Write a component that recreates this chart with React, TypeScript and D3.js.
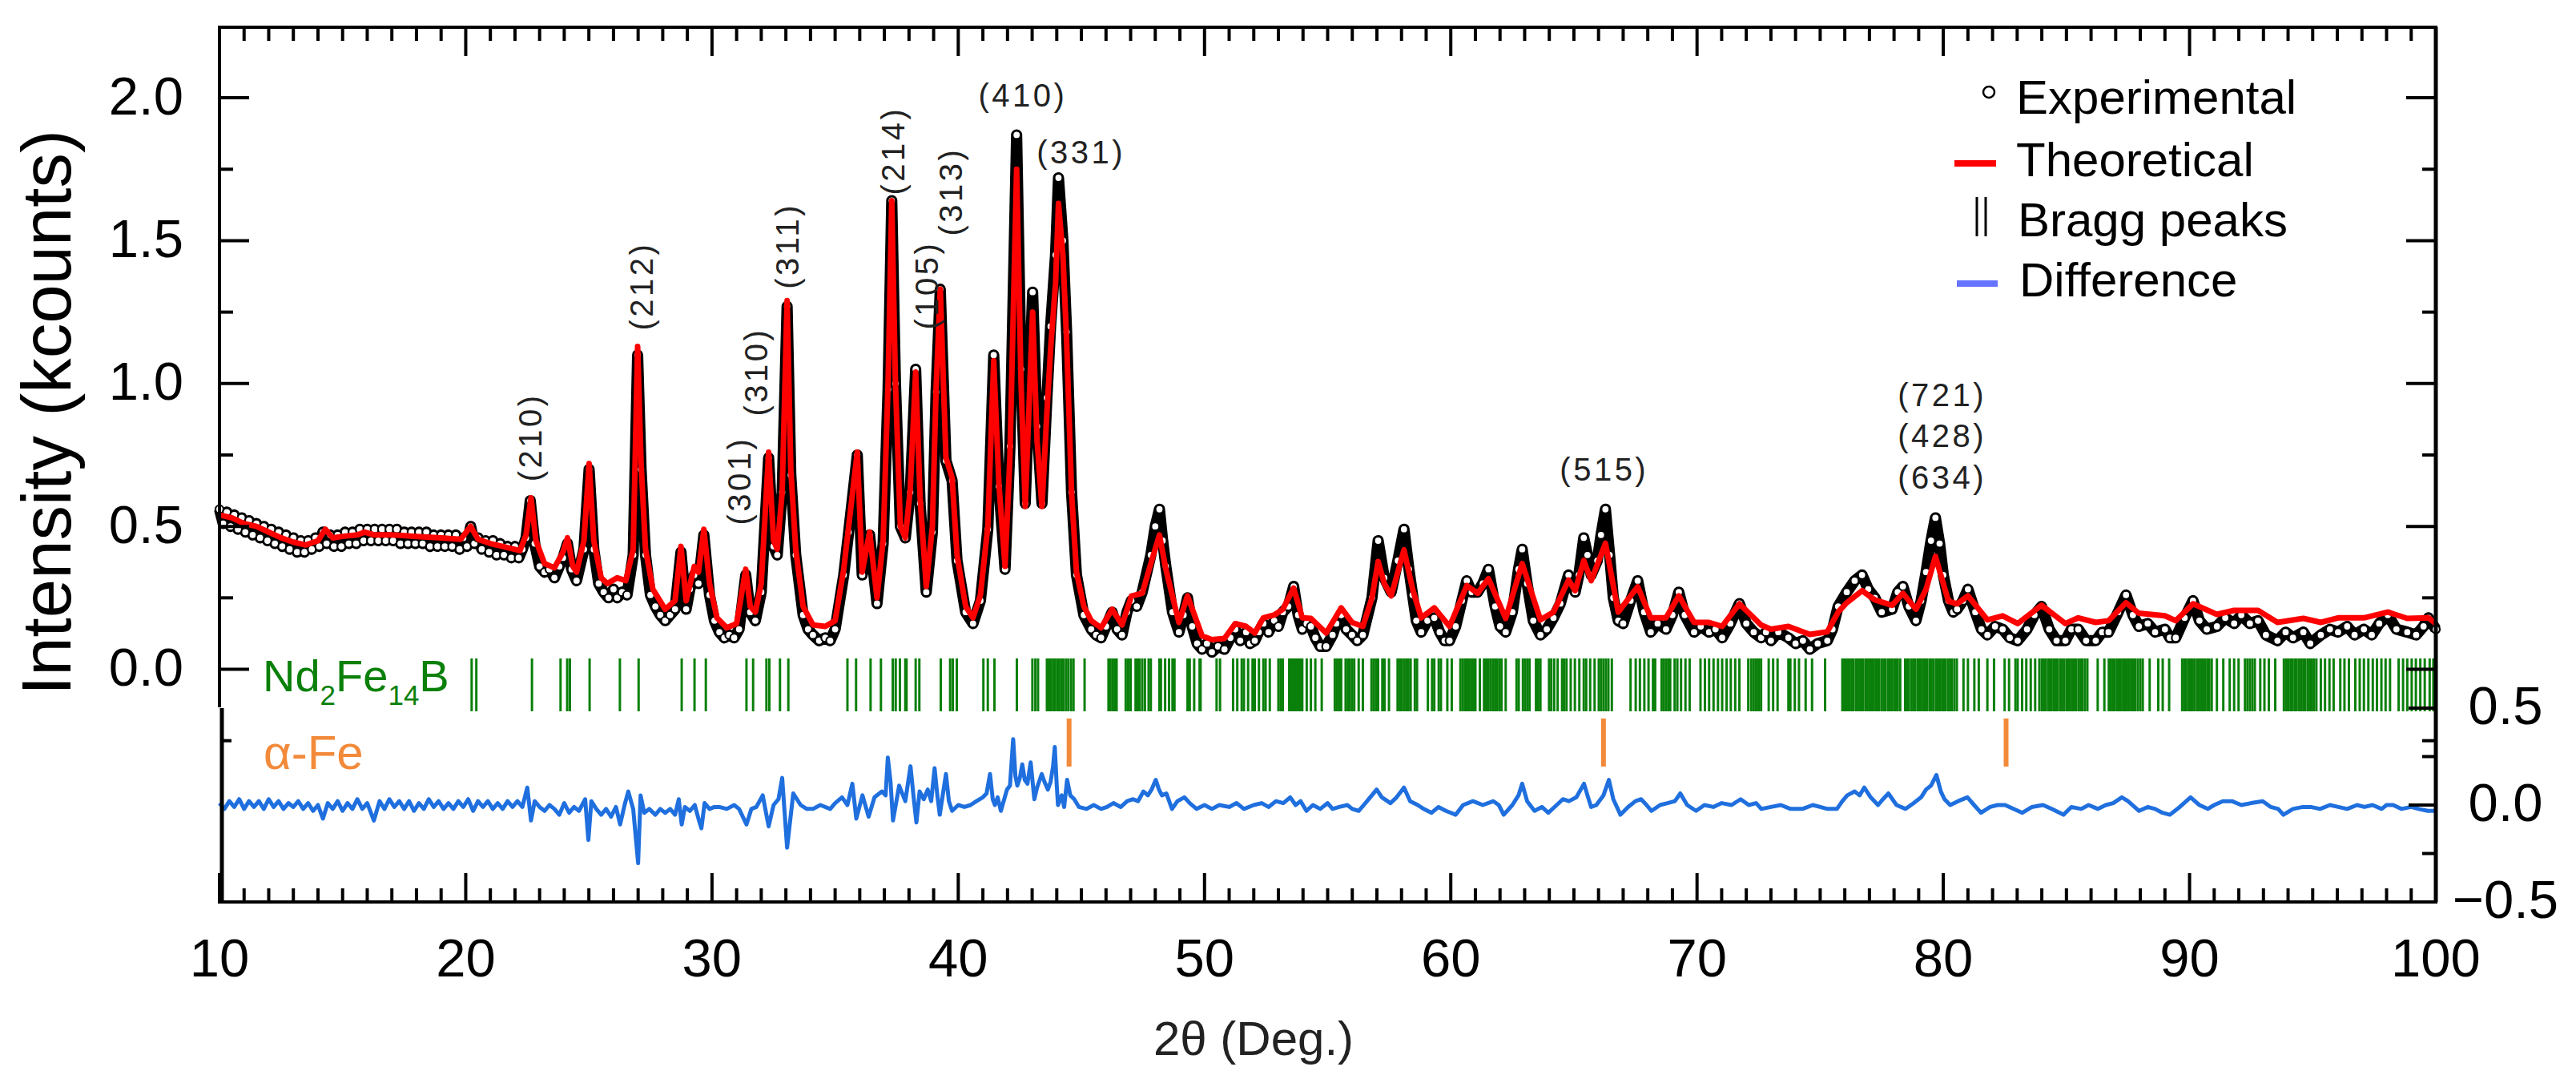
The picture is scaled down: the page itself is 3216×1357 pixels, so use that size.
import * as d3 from 'd3'

// Rietveld refinement of Nd2Fe14B powder pattern
const theoretical: [number, number][] = [
  [10.0, 0.54], [10.5, 0.53], [11.0, 0.51], [11.5, 0.5], [12.0, 0.48], [12.5, 0.46], [13.0, 0.445], [13.5, 0.435],
  [14.0, 0.45], [14.3, 0.49], [14.6, 0.46], [15.0, 0.465], [15.6, 0.47], [15.9, 0.48], [16.3, 0.47], [17.0, 0.47],
  [18.0, 0.465], [19.0, 0.46], [19.8, 0.455], [20.2, 0.5], [20.5, 0.455], [21.0, 0.44], [21.5, 0.43], [22.2, 0.415],
  [22.45, 0.47], [22.65, 0.6], [22.85, 0.45], [23.2, 0.37], [23.6, 0.355], [23.95, 0.41], [24.13, 0.46], [24.35, 0.36],
  [24.5, 0.34], [24.8, 0.45], [25.01, 0.72], [25.2, 0.45], [25.5, 0.32], [25.75, 0.3], [26.15, 0.32], [26.5, 0.31],
  [26.8, 0.42], [26.98, 1.13], [27.12, 0.72], [27.3, 0.42], [27.6, 0.28], [28.1, 0.21], [28.5, 0.24], [28.74, 0.43],
  [28.95, 0.24], [29.28, 0.36], [29.45, 0.34], [29.67, 0.49], [29.9, 0.3], [30.2, 0.18], [30.6, 0.145], [31.0, 0.16],
  [31.37, 0.35], [31.55, 0.22], [31.76, 0.2], [32.0, 0.3], [32.3, 0.76], [32.5, 0.45], [32.65, 0.42], [32.85, 0.62],
  [33.05, 1.29], [33.2, 0.7], [33.4, 0.42], [33.7, 0.22], [34.1, 0.155], [34.6, 0.15], [35.0, 0.17], [35.35, 0.35],
  [35.55, 0.5], [35.9, 0.76], [36.1, 0.34], [36.4, 0.48], [36.7, 0.25], [36.95, 0.45], [37.15, 1.0], [37.3, 1.64],
  [37.45, 1.0], [37.65, 0.5], [37.85, 0.46], [38.05, 0.63], [38.27, 1.04], [38.45, 0.6], [38.7, 0.29], [38.95, 0.5],
  [39.1, 0.98], [39.27, 1.33], [39.5, 0.74], [39.75, 0.67], [39.95, 0.4], [40.3, 0.22], [40.6, 0.18], [40.9, 0.26],
  [41.2, 0.5], [41.44, 1.08], [41.65, 0.65], [41.9, 0.36], [42.1, 0.75], [42.37, 1.75], [42.55, 1.0], [42.72, 0.57],
  [43.02, 1.25], [43.2, 0.8], [43.4, 0.57], [43.6, 0.9], [43.75, 1.12], [43.95, 1.35], [44.07, 1.63], [44.25, 1.45],
  [44.4, 1.15], [44.6, 0.62], [44.8, 0.34], [45.1, 0.22], [45.4, 0.17], [45.8, 0.145], [46.25, 0.21], [46.65, 0.155],
  [47.03, 0.256], [47.47, 0.266], [47.82, 0.37], [48.17, 0.47], [48.43, 0.35], [48.96, 0.164], [49.31, 0.257], [49.9, 0.117],
  [50.3, 0.104], [50.81, 0.108], [51.25, 0.16], [51.69, 0.15], [52.04, 0.127], [52.39, 0.18], [52.83, 0.19], [53.18, 0.21],
  [53.62, 0.284], [53.97, 0.18], [54.32, 0.178], [54.94, 0.127], [55.55, 0.215], [55.99, 0.164], [56.43, 0.15], [56.8, 0.25],
  [57.05, 0.377], [57.3, 0.3], [57.58, 0.257], [58.1, 0.418], [58.45, 0.28], [58.8, 0.18], [59.33, 0.215], [59.95, 0.15],
  [60.65, 0.293], [61.09, 0.266], [61.53, 0.317], [62.23, 0.178], [62.9, 0.37], [63.64, 0.173], [64.17, 0.2], [64.78, 0.312],
  [65.05, 0.275], [65.4, 0.381], [65.7, 0.31], [66.28, 0.441], [66.8, 0.2], [67.59, 0.289], [68.12, 0.18], [68.74, 0.18],
  [69.26, 0.257], [69.88, 0.164], [70.49, 0.164], [71.02, 0.15], [71.72, 0.229], [72.6, 0.155], [73.0, 0.14], [73.71, 0.15],
  [74.58, 0.122], [75.29, 0.131], [75.73, 0.2], [76.08, 0.233], [76.7, 0.275], [77.22, 0.243], [77.92, 0.224], [78.36, 0.266],
  [78.89, 0.21], [79.3, 0.28], [79.68, 0.395], [80.0, 0.3], [80.21, 0.238], [80.56, 0.229], [81.0, 0.257], [81.79, 0.173],
  [82.41, 0.187], [83.02, 0.16], [83.99, 0.224], [84.96, 0.16], [85.48, 0.18], [86.19, 0.164], [86.71, 0.17], [87.42, 0.233],
  [87.94, 0.196], [89.0, 0.187], [89.44, 0.17], [90.14, 0.229], [91.11, 0.192], [91.81, 0.206], [92.78, 0.206], [93.57, 0.164],
  [94.62, 0.178], [95.33, 0.164], [96.03, 0.18], [97.08, 0.18], [98.05, 0.2], [98.84, 0.178], [99.7, 0.18], [100.0, 0.16],
]

const experimental: [number, number][] = [
  [10.0, 0.56], [10.15, 0.51], [10.3, 0.55], [10.45, 0.5], [10.6, 0.54], [10.75, 0.49], [10.9, 0.53], [11.05, 0.48],
  [11.2, 0.52], [11.35, 0.47], [11.5, 0.51], [11.65, 0.46], [11.8, 0.5], [11.95, 0.45], [12.1, 0.49], [12.25, 0.44],
  [12.4, 0.48], [12.55, 0.43], [12.7, 0.47], [12.85, 0.42], [13.0, 0.46], [13.15, 0.41], [13.3, 0.45], [13.45, 0.41],
  [13.6, 0.45], [13.75, 0.42], [13.9, 0.46], [14.05, 0.43], [14.2, 0.48], [14.35, 0.44], [14.5, 0.47], [14.65, 0.43],
  [14.8, 0.47], [14.95, 0.43], [15.1, 0.48], [15.25, 0.44], [15.4, 0.48], [15.55, 0.44], [15.7, 0.49], [15.85, 0.45],
  [16.0, 0.49], [16.15, 0.45], [16.3, 0.49], [16.45, 0.45], [16.6, 0.49], [16.75, 0.45], [16.9, 0.49], [17.05, 0.45],
  [17.2, 0.49], [17.35, 0.44], [17.5, 0.48], [17.65, 0.44], [17.8, 0.48], [17.95, 0.44], [18.1, 0.48], [18.25, 0.44],
  [18.4, 0.48], [18.55, 0.43], [18.7, 0.47], [18.85, 0.43], [19.0, 0.47], [19.15, 0.43], [19.3, 0.47], [19.45, 0.43],
  [19.6, 0.47], [19.75, 0.42], [19.9, 0.46], [20.05, 0.43], [20.2, 0.5], [20.35, 0.44], [20.5, 0.46], [20.65, 0.42],
  [20.8, 0.45], [20.95, 0.41], [21.1, 0.45], [21.25, 0.4], [21.4, 0.44], [21.55, 0.4], [21.7, 0.43], [21.85, 0.39],
  [22.0, 0.43], [22.15, 0.39], [22.3, 0.42], [22.45, 0.46], [22.62, 0.59], [22.8, 0.44], [23.0, 0.36], [23.2, 0.34],
  [23.4, 0.35], [23.6, 0.32], [23.8, 0.36], [23.95, 0.39], [24.13, 0.44], [24.3, 0.35], [24.5, 0.31], [24.8, 0.42],
  [25.01, 0.7], [25.2, 0.42], [25.4, 0.3], [25.6, 0.27], [25.8, 0.25], [26.0, 0.28], [26.15, 0.25], [26.35, 0.27],
  [26.55, 0.26], [26.8, 0.4], [26.98, 1.1], [27.12, 0.7], [27.3, 0.4], [27.5, 0.26], [27.7, 0.22], [27.9, 0.19],
  [28.1, 0.17], [28.3, 0.19], [28.5, 0.21], [28.74, 0.41], [28.95, 0.21], [29.1, 0.28], [29.28, 0.33], [29.45, 0.3],
  [29.67, 0.47], [29.9, 0.26], [30.1, 0.17], [30.3, 0.13], [30.5, 0.11], [30.7, 0.12], [30.9, 0.11], [31.1, 0.14],
  [31.37, 0.33], [31.55, 0.2], [31.76, 0.17], [32.0, 0.27], [32.3, 0.74], [32.5, 0.43], [32.65, 0.4], [32.85, 0.62],
  [33.05, 1.27], [33.2, 0.68], [33.4, 0.4], [33.7, 0.19], [33.9, 0.14], [34.1, 0.12], [34.35, 0.1], [34.6, 0.11],
  [34.8, 0.1], [35.0, 0.14], [35.35, 0.33], [35.55, 0.48], [35.9, 0.75], [36.1, 0.33], [36.4, 0.47], [36.7, 0.23],
  [36.95, 0.44], [37.15, 0.98], [37.3, 1.64], [37.45, 1.0], [37.65, 0.5], [37.85, 0.46], [38.05, 0.62], [38.27, 1.05],
  [38.45, 0.58], [38.7, 0.27], [38.95, 0.48], [39.1, 0.97], [39.27, 1.33], [39.5, 0.73], [39.75, 0.66], [39.95, 0.38],
  [40.3, 0.2], [40.6, 0.16], [40.9, 0.24], [41.2, 0.49], [41.44, 1.1], [41.65, 0.64], [41.9, 0.35], [42.1, 0.78],
  [42.37, 1.87], [42.55, 1.05], [42.72, 0.58], [43.02, 1.32], [43.2, 0.85], [43.4, 0.58], [43.6, 0.95], [43.75, 1.2],
  [43.95, 1.45], [44.07, 1.72], [44.25, 1.5], [44.4, 1.18], [44.6, 0.62], [44.8, 0.33], [45.1, 0.19], [45.4, 0.14],
  [45.6, 0.12], [45.8, 0.11], [46.0, 0.15], [46.25, 0.2], [46.45, 0.14], [46.65, 0.12], [46.85, 0.2], [47.03, 0.24],
  [47.25, 0.22], [47.47, 0.27], [47.82, 0.4], [48.0, 0.5], [48.17, 0.56], [48.3, 0.45], [48.43, 0.36], [48.7, 0.2],
  [48.96, 0.13], [49.15, 0.19], [49.31, 0.25], [49.5, 0.15], [49.7, 0.09], [49.9, 0.07], [50.1, 0.09], [50.3, 0.06],
  [50.55, 0.08], [50.81, 0.07], [51.05, 0.11], [51.25, 0.14], [51.45, 0.1], [51.69, 0.13], [51.85, 0.09], [52.04, 0.1],
  [52.2, 0.13], [52.39, 0.16], [52.6, 0.13], [52.83, 0.17], [53.0, 0.15], [53.18, 0.2], [53.4, 0.22], [53.62, 0.29],
  [53.8, 0.19], [53.97, 0.14], [54.15, 0.16], [54.32, 0.15], [54.5, 0.11], [54.7, 0.08], [54.94, 0.08], [55.2, 0.12],
  [55.35, 0.16], [55.55, 0.19], [55.75, 0.14], [55.99, 0.12], [56.2, 0.1], [56.43, 0.12], [56.8, 0.25], [57.05, 0.45],
  [57.3, 0.32], [57.58, 0.27], [57.85, 0.38], [58.1, 0.49], [58.3, 0.35], [58.45, 0.26], [58.6, 0.17], [58.8, 0.13],
  [59.05, 0.17], [59.33, 0.18], [59.55, 0.13], [59.75, 0.1], [59.95, 0.1], [60.2, 0.15], [60.45, 0.24], [60.65, 0.31],
  [60.85, 0.27], [61.09, 0.27], [61.3, 0.3], [61.53, 0.35], [61.8, 0.22], [62.0, 0.15], [62.23, 0.13], [62.5, 0.2],
  [62.75, 0.35], [62.9, 0.42], [63.1, 0.3], [63.35, 0.17], [63.64, 0.12], [63.9, 0.14], [64.17, 0.18], [64.45, 0.23],
  [64.78, 0.33], [65.05, 0.27], [65.2, 0.33], [65.4, 0.46], [65.55, 0.4], [65.7, 0.33], [65.95, 0.38], [66.1, 0.47],
  [66.28, 0.56], [66.45, 0.4], [66.6, 0.25], [66.8, 0.17], [67.0, 0.16], [67.3, 0.24], [67.59, 0.31], [67.85, 0.2],
  [68.12, 0.13], [68.4, 0.16], [68.74, 0.14], [69.0, 0.19], [69.26, 0.27], [69.5, 0.19], [69.88, 0.13], [70.15, 0.15],
  [70.49, 0.13], [70.75, 0.14], [71.02, 0.11], [71.35, 0.16], [71.72, 0.23], [72.0, 0.16], [72.3, 0.13], [72.6, 0.11],
  [72.8, 0.13], [73.0, 0.1], [73.3, 0.13], [73.71, 0.11], [74.0, 0.09], [74.3, 0.1], [74.58, 0.07], [74.9, 0.09],
  [75.29, 0.1], [75.5, 0.14], [75.73, 0.22], [76.08, 0.27], [76.4, 0.31], [76.7, 0.33], [76.95, 0.28], [77.22, 0.25],
  [77.5, 0.2], [77.92, 0.21], [78.15, 0.27], [78.36, 0.29], [78.6, 0.22], [78.89, 0.17], [79.1, 0.24], [79.3, 0.34],
  [79.5, 0.45], [79.68, 0.53], [79.85, 0.44], [80.0, 0.33], [80.21, 0.24], [80.4, 0.2], [80.56, 0.21], [80.8, 0.24],
  [81.0, 0.28], [81.3, 0.2], [81.55, 0.14], [81.79, 0.12], [82.1, 0.15], [82.41, 0.14], [82.7, 0.11], [83.02, 0.1],
  [83.4, 0.14], [83.7, 0.19], [83.99, 0.22], [84.3, 0.14], [84.6, 0.1], [84.96, 0.1], [85.2, 0.14], [85.48, 0.14],
  [85.8, 0.1], [86.19, 0.1], [86.45, 0.13], [86.71, 0.13], [87.1, 0.2], [87.42, 0.26], [87.7, 0.19], [87.94, 0.15],
  [88.3, 0.16], [88.6, 0.13], [89.0, 0.14], [89.2, 0.11], [89.44, 0.11], [89.8, 0.18], [90.14, 0.24], [90.4, 0.17],
  [90.7, 0.14], [91.11, 0.15], [91.45, 0.18], [91.81, 0.16], [92.1, 0.19], [92.45, 0.16], [92.78, 0.17], [93.1, 0.12],
  [93.57, 0.1], [93.9, 0.13], [94.2, 0.11], [94.62, 0.13], [94.9, 0.09], [95.33, 0.12], [95.7, 0.14], [96.03, 0.13],
  [96.4, 0.15], [96.7, 0.12], [97.08, 0.14], [97.4, 0.12], [97.7, 0.16], [98.05, 0.19], [98.4, 0.14], [98.84, 0.13],
  [99.2, 0.12], [99.5, 0.15], [99.7, 0.18], [100.0, 0.14],
]

const difference: [number, number][] = [
  [10.0, 0.01], [10.2, -0.02], [10.4, 0.02], [10.6, -0.01], [10.8, 0.03], [11.0, -0.02], [11.2, 0.02], [11.4, -0.01],
  [11.6, 0.02], [11.8, -0.02], [12.0, 0.03], [12.2, -0.01], [12.4, 0.02], [12.6, -0.02], [12.8, 0.01], [13.0, -0.01],
  [13.2, 0.02], [13.4, -0.02], [13.6, 0.01], [13.8, -0.03], [14.0, 0.0], [14.2, -0.07], [14.4, 0.01], [14.6, -0.02],
  [14.8, 0.02], [15.0, -0.03], [15.2, 0.01], [15.4, -0.02], [15.6, 0.03], [15.8, -0.02], [16.0, 0.01], [16.27, -0.08],
  [16.5, 0.02], [16.7, -0.02], [16.9, 0.03], [17.1, -0.01], [17.3, 0.02], [17.5, -0.02], [17.7, 0.02], [17.9, -0.03],
  [18.1, 0.01], [18.3, -0.02], [18.5, 0.03], [18.7, -0.01], [18.9, 0.02], [19.1, -0.02], [19.3, 0.01], [19.5, -0.02],
  [19.7, 0.02], [19.9, -0.01], [20.1, 0.03], [20.3, -0.03], [20.5, 0.02], [20.7, -0.01], [20.9, 0.02], [21.1, -0.02],
  [21.3, 0.01], [21.5, -0.02], [21.7, 0.02], [21.9, -0.01], [22.1, 0.02], [22.3, -0.01], [22.5, 0.09], [22.65, -0.08],
  [22.8, 0.02], [23.0, -0.01], [23.2, -0.03], [23.4, 0.0], [23.6, -0.02], [23.8, -0.05], [24.0, 0.01], [24.2, -0.04],
  [24.4, -0.01], [24.6, -0.03], [24.85, 0.03], [24.98, -0.18], [25.1, 0.02], [25.3, -0.02], [25.5, -0.05], [25.7, -0.02],
  [25.9, -0.06], [26.1, -0.01], [26.27, -0.1], [26.45, 0.0], [26.6, 0.07], [26.8, -0.02], [27.0, -0.3], [27.1, 0.05],
  [27.25, -0.04], [27.45, -0.02], [27.7, -0.05], [27.9, -0.02], [28.1, -0.04], [28.3, -0.02], [28.5, -0.05], [28.65, 0.03],
  [28.77, -0.1], [28.9, -0.01], [29.1, -0.03], [29.3, 0.0], [29.45, -0.07], [29.57, -0.12], [29.7, 0.01], [29.9, -0.02],
  [30.1, -0.01], [30.3, -0.01], [30.6, -0.02], [30.9, 0.0], [31.1, -0.02], [31.4, -0.1], [31.6, -0.02], [31.8, -0.01],
  [32.06, 0.05], [32.3, -0.11], [32.5, 0.0], [32.7, 0.03], [32.85, 0.14], [33.05, -0.22], [33.3, 0.06], [33.6, 0.0],
  [33.85, -0.02], [34.1, -0.02], [34.4, 0.0], [34.8, -0.02], [35.0, 0.01], [35.28, 0.04], [35.5, 0.0], [35.7, 0.11],
  [35.86, -0.07], [36.11, 0.05], [36.36, -0.06], [36.6, 0.04], [36.9, 0.07], [37.05, 0.05], [37.14, 0.245], [37.25, 0.12],
  [37.35, -0.08], [37.6, 0.1], [37.85, 0.02], [38.06, 0.2], [38.18, 0.05], [38.3, -0.09], [38.43, 0.07], [38.6, 0.03],
  [38.76, 0.08], [38.9, 0.02], [39.04, 0.19], [39.15, 0.05], [39.25, -0.05], [39.5, 0.16], [39.62, 0.02], [39.75, -0.03],
  [40.0, 0.0], [40.25, -0.01], [40.5, 0.0], [40.74, 0.02], [41.0, 0.04], [41.15, 0.06], [41.29, 0.16], [41.4, 0.03],
  [41.49, 0.0], [41.6, 0.04], [41.73, -0.03], [41.98, 0.08], [42.1, 0.1], [42.23, 0.34], [42.32, 0.15], [42.4, 0.1],
  [42.5, 0.14], [42.6, 0.21], [42.7, 0.13], [42.81, 0.11], [42.94, 0.22], [43.09, 0.03], [43.2, 0.09], [43.39, 0.16],
  [43.5, 0.12], [43.64, 0.08], [43.75, 0.12], [43.85, 0.2], [43.92, 0.3], [44.0, 0.1], [44.05, 0.0], [44.2, 0.05],
  [44.3, -0.01], [44.42, 0.13], [44.55, 0.05], [44.71, 0.03], [44.9, -0.01], [45.21, -0.02], [45.5, 0.0], [45.8, -0.02],
  [46.04, -0.01], [46.3, 0.01], [46.6, -0.01], [46.86, 0.02], [47.1, 0.03], [47.3, 0.02], [47.52, 0.07], [47.7, 0.05],
  [47.85, 0.08], [48.02, 0.13], [48.15, 0.08], [48.27, 0.05], [48.45, 0.06], [48.68, -0.02], [48.9, 0.02], [49.18, 0.04],
  [49.4, 0.01], [49.68, -0.02], [50.0, 0.0], [50.3, -0.02], [50.6, 0.0], [51.0, -0.01], [51.3, 0.01], [51.6, -0.02],
  [52.0, 0.0], [52.32, 0.01], [52.6, -0.01], [52.9, 0.02], [53.2, 0.01], [53.48, 0.04], [53.7, 0.0], [53.9, 0.02],
  [54.14, -0.03], [54.4, 0.0], [54.7, -0.02], [55.0, 0.01], [55.2, -0.02], [55.47, -0.01], [55.8, 0.0], [56.0, -0.02],
  [56.26, -0.03], [56.6, 0.02], [56.99, 0.08], [57.2, 0.04], [57.55, 0.01], [57.8, 0.04], [58.1, 0.09], [58.35, 0.02],
  [58.66, 0.0], [58.9, -0.02], [59.22, -0.04], [59.5, -0.01], [59.8, -0.03], [60.2, -0.05], [60.5, 0.0], [60.9, 0.02],
  [61.3, 0.0], [61.73, 0.02], [61.95, 0.0], [62.15, -0.05], [62.5, 0.0], [62.75, 0.05], [62.9, 0.11], [63.1, 0.02],
  [63.4, -0.03], [63.7, -0.01], [63.96, -0.04], [64.3, 0.0], [64.55, 0.03], [64.8, 0.02], [65.1, 0.04], [65.41, 0.11],
  [65.55, 0.05], [65.7, -0.01], [65.91, 0.0], [66.2, 0.05], [66.42, 0.13], [66.6, 0.03], [66.89, -0.05], [67.2, -0.01],
  [67.5, 0.02], [67.73, 0.03], [67.95, 0.0], [68.15, -0.03], [68.5, 0.0], [68.8, 0.01], [69.1, 0.02], [69.32, 0.06],
  [69.6, 0.0], [69.96, -0.03], [70.3, 0.0], [70.66, -0.01], [71.0, 0.01], [71.4, 0.0], [71.77, 0.03], [72.1, 0.0],
  [72.4, 0.01], [72.61, -0.02], [73.0, -0.01], [73.4, 0.0], [73.8, -0.02], [74.28, -0.02], [74.7, 0.0], [75.0, -0.01],
  [75.3, -0.02], [75.68, -0.02], [75.9, 0.02], [76.1, 0.05], [76.4, 0.07], [76.6, 0.05], [76.79, 0.09], [77.05, 0.04],
  [77.35, 0.0], [77.55, 0.03], [77.77, 0.06], [78.1, 0.0], [78.47, -0.02], [78.8, 0.01], [79.1, 0.04], [79.3, 0.08],
  [79.5, 0.1], [79.72, 0.155], [79.9, 0.07], [80.05, 0.03], [80.28, 0.0], [80.6, 0.02], [80.98, 0.04], [81.25, 0.0],
  [81.53, -0.04], [81.9, -0.01], [82.2, 0.0], [82.51, 0.0], [82.85, -0.02], [83.21, -0.04], [83.6, -0.01], [84.05, 0.0],
  [84.4, -0.02], [84.88, -0.05], [85.2, -0.01], [85.6, -0.02], [85.9, 0.0], [86.28, -0.02], [86.6, 0.0], [86.9, 0.01],
  [87.25, 0.04], [87.5, 0.02], [87.95, -0.03], [88.3, -0.01], [88.6, -0.02], [88.9, -0.04], [89.2, -0.05], [89.6, -0.01],
  [90.04, 0.04], [90.4, 0.0], [90.74, -0.02], [91.0, 0.0], [91.35, 0.02], [91.72, 0.02], [92.1, 0.0], [92.5, 0.01],
  [92.97, 0.02], [93.3, -0.01], [93.6, -0.02], [93.81, -0.05], [94.2, -0.02], [94.6, -0.01], [94.92, -0.01], [95.3, -0.02],
  [95.7, 0.0], [96.04, -0.01], [96.4, -0.02], [96.8, 0.0], [97.1, -0.01], [97.43, 0.0], [97.8, -0.02], [98.0, 0.0],
  [98.27, 0.0], [98.6, -0.02], [99.0, -0.01], [99.3, -0.02], [99.67, -0.03], [100.0, -0.03],
]

// Bragg reflection positions (2θ)
const braggNd2Fe14B: number[] = [
  20.24, 20.43, 22.69, 23.85, 24.12, 24.23, 25.03, 26.26, 27.02, 28.77, 29.29, 29.75, 31.4, 31.67, 32.21, 32.33,
  32.76, 33.1, 35.5, 35.85, 36.44, 36.86, 37.34, 37.46, 37.63, 37.85, 37.9, 38.27, 38.42, 39.29, 39.67, 39.78,
  39.94, 41.02, 41.2, 41.47, 42.38, 43.01, 43.13, 43.24, 43.6, 43.68, 43.76, 43.85, 43.93, 44.02, 44.1, 44.2,
  44.28, 44.38, 44.47, 44.58, 44.68, 45.13, 46.1, 46.18, 46.27, 46.35, 46.43, 46.8, 46.9, 47.0, 47.2, 47.29,
  47.36, 47.47, 47.58, 47.73, 47.82, 48.17, 48.23, 48.4, 48.56, 48.7, 48.78, 49.31, 49.4, 49.58, 49.8, 49.84,
  50.49, 50.63, 51.16, 51.33, 51.51, 51.6, 51.77, 51.95, 52.04, 52.21, 52.39, 52.48, 52.65, 53.0, 53.09, 53.18,
  53.44, 53.5, 53.56, 53.62, 53.68, 53.74, 53.8, 53.86, 53.92, 53.97, 54.15, 54.32, 54.5, 54.76, 55.29, 55.38,
  55.46, 55.55, 55.73, 55.82, 55.9, 55.99, 56.08, 56.26, 56.43, 56.78, 56.87, 56.96, 57.05, 57.22, 57.31, 57.49,
  57.84, 57.93, 58.01, 58.1, 58.19, 58.28, 58.37, 58.54, 58.63, 59.07, 59.24, 59.33, 59.51, 59.6, 59.86, 60.04,
  60.39, 60.48, 60.57, 60.66, 60.75, 60.83, 60.92, 61.0, 61.18, 61.35, 61.44, 61.53, 61.62, 61.71, 61.8, 61.88,
  61.97, 62.06, 62.23, 62.67, 62.76, 62.93, 63.02, 63.11, 63.2, 63.46, 63.55, 63.64, 63.99, 64.08, 64.2, 64.34,
  64.52, 64.6, 64.7, 64.87, 65.04, 65.22, 65.4, 65.5, 65.66, 65.84, 66.01, 66.1, 66.2, 66.3, 66.4, 66.54,
  67.3, 67.51, 67.68, 67.86, 68.03, 68.21, 68.3, 68.56, 68.65, 68.74, 68.83, 68.91, 69.09, 69.2, 69.35, 69.53,
  69.7, 70.14, 70.32, 70.49, 70.67, 70.85, 71.02, 71.2, 71.37, 71.55, 71.72, 72.08, 72.2, 72.3, 72.4, 72.5,
  72.6, 72.91, 73.09, 73.27, 73.71, 73.79, 73.97, 74.14, 74.41, 74.67, 75.2, 75.9, 75.98, 76.05, 76.12, 76.2,
  76.28, 76.35, 76.45, 76.52, 76.6, 76.68, 76.75, 76.85, 76.92, 77.0, 77.08, 77.15, 77.25, 77.32, 77.4, 77.5,
  77.58, 77.65, 77.75, 77.82, 77.9, 78.0, 78.08, 78.15, 78.25, 78.45, 78.52, 78.6, 78.7, 78.78, 78.85, 78.95,
  79.02, 79.1, 79.2, 79.28, 79.35, 79.45, 79.52, 79.6, 79.7, 79.78, 79.85, 79.95, 80.02, 80.1, 80.2, 80.28,
  80.35, 80.45, 80.55, 80.82, 81.0, 81.26, 81.44, 81.79, 82.06, 82.49, 82.67, 82.93, 83.02, 83.2, 83.37, 83.55,
  83.73, 83.9, 84.0, 84.08, 84.15, 84.25, 84.32, 84.4, 84.5, 84.58, 84.65, 84.75, 84.82, 84.9, 85.0, 85.08,
  85.15, 85.25, 85.32, 85.4, 85.5, 85.58, 85.65, 85.75, 85.85, 86.27, 86.54, 86.72, 86.8, 86.88, 86.96, 87.05,
  87.13, 87.2, 87.3, 87.38, 87.46, 87.55, 87.63, 87.72, 87.8, 87.9, 88.0, 88.1, 88.38, 88.73, 88.91, 89.17,
  89.7, 89.78, 89.86, 89.95, 90.03, 90.12, 90.2, 90.3, 90.38, 90.46, 90.55, 90.63, 90.72, 90.8, 90.9, 91.11,
  91.37, 91.63, 91.81, 91.99, 92.25, 92.35, 92.45, 92.55, 92.65, 92.87, 93.04, 93.22, 93.48, 93.83, 93.92, 94.0,
  94.1, 94.18, 94.27, 94.35, 94.45, 94.53, 94.62, 94.7, 94.8, 94.88, 94.97, 95.05, 95.15, 95.33, 95.5, 95.68,
  95.85, 96.12, 96.29, 96.47, 96.73, 96.91, 97.08, 97.26, 97.44, 97.61, 97.79, 97.96, 98.14, 98.49, 98.67, 98.84,
  99.02, 99.19, 99.37, 99.55, 99.75, 99.9,
]
const braggAlphaFe: number[] = [44.5, 66.2, 82.55]

// Miller-index annotations: [2θ, intensity] anchor of the label centre
const verticalLabels: { hkl: string; at: [number, number] }[] = [
  { hkl: '(210)', at: [22.62, 0.812] },
  { hkl: '(212)', at: [27.14, 1.341] },
  { hkl: '(301)', at: [31.11, 0.66] },
  { hkl: '(310)', at: [31.79, 1.041] },
  { hkl: '(311)', at: [33.06, 1.482] },
  { hkl: '(214)', at: [37.35, 1.815] },
  { hkl: '(105)', at: [38.72, 1.344] },
  { hkl: '(313)', at: [39.69, 1.672] },
]
const horizontalLabels: { hkl: string; at: [number, number] }[] = [
  { hkl: '(410)', at: [42.62, 2.01] },
  { hkl: '(331)', at: [44.99, 1.81] },
  { hkl: '(515)', at: [66.23, 0.7] },
  { hkl: '(721)', at: [79.95, 0.96] },
  { hkl: '(428)', at: [79.95, 0.817] },
  { hkl: '(634)', at: [79.95, 0.671] },
]

const xTickValues = d3.range(10, 101, 1)
const xTickLabels = [10, 20, 30, 40, 50, 60, 70, 80, 90, 100]
const yTickValues = d3.range(0, 2.01, 0.25)
const yTickLabels = [0, 0.5, 1, 1.5, 2]
const diffTickValues = [-0.5, -0.25, 0, 0.25, 0.5]
const diffTickLabels = [0.5, 0, -0.5]

const FONT = '"Liberation Sans", Arial, Helvetica, sans-serif'
const RED = '#ff0000'
const BLUE = '#1f6fde'
const GREEN = '#0a800a'
const ORANGE = '#f28a3a'

export default function App() {
  const W = 3216
  const H = 1357
  const left = 274
  const right = 3041
  const top = 34
  const panelBottom = 883
  const bottom = 1126

  const x = d3.scaleLinear().domain([10, 100]).range([left, right])
  const y = d3.scaleLinear().domain([0, 2]).range([835.5, 122.1])
  const yd = d3.scaleLinear().domain([-0.5, 0.5]).range([bottom, 884])

  const line = d3.line<[number, number]>().x(d => x(d[0])).y(d => y(d[1]))
  const diffLine = d3.line<[number, number]>().x(d => x(d[0])).y(d => yd(d[1]))

  const fmt = (v: number) => (v < 0 ? '\u2212' : '') + Math.abs(v).toFixed(1)

  return (
    <svg width={W} height={H} viewBox={`0 0 ${W} ${H}`}
      style={{ position: 'absolute', left: 0, top: 0, background: '#fff' }}
      fontFamily={FONT}>
      <rect width={W} height={H} fill="#fff" />

      {/* Bragg reflection markers */}
      <g stroke={GREEN} strokeWidth={3}>
        {braggNd2Fe14B.map((d, i) => (
          <line key={i} x1={x(d)} x2={x(d)} y1={822} y2={888} />
        ))}
      </g>
      <g stroke={ORANGE} strokeWidth={6}>
        {braggAlphaFe.map((d, i) => (
          <line key={i} x1={x(d)} x2={x(d)} y1={897} y2={957} />
        ))}
      </g>

      {/* experimental points */}
      <path d={line(experimental) ?? ''} fill="none" stroke="#000" strokeWidth={14} strokeLinejoin="round" />
      <g fill="#fff" stroke="#000" strokeWidth={2.2}>
        {experimental.map((d, i) => (
          <circle key={i} cx={x(d[0])} cy={y(d[1])} r={5} />
        ))}
      </g>

      {/* theoretical curve */}
      <path d={line(theoretical) ?? ''} fill="none" stroke={RED} strokeWidth={7} strokeLinejoin="round" />

      {/* difference curve */}
      <path d={diffLine(difference) ?? ''} fill="none" stroke={BLUE} strokeWidth={5} strokeLinejoin="round" />

      {/* frame */}
      <g stroke="#000" strokeWidth={4} fill="none">
        <line x1={left - 2} x2={right + 2} y1={top} y2={top} />
        <line x1={left - 2} x2={right + 2} y1={bottom} y2={bottom} />
        <line x1={left} x2={left} y1={top} y2={panelBottom} />
        <line x1={left + 3} x2={left + 3} y1={panelBottom + 1} y2={bottom} strokeWidth={5} />
        <line x1={right} x2={right} y1={top} y2={bottom} strokeWidth={5} />
      </g>

      {/* x ticks, top and bottom */}
      <g stroke="#000" strokeWidth={4}>
        {xTickValues.map(v => {
          const len = v % 10 === 0 ? 36 : 17
          return (
            <g key={v}>
              <line x1={x(v)} x2={x(v)} y1={top} y2={top + len} />
              <line x1={x(v)} x2={x(v)} y1={bottom} y2={bottom - len} />
            </g>
          )
        })}
      </g>
      <g fontSize={67} textAnchor="middle" fill="#000">
        {xTickLabels.map(v => (
          <text key={v} x={x(v)} y={1195} dominantBaseline="central">{v}</text>
        ))}
      </g>

      {/* y ticks upper panel (both sides) */}
      <g stroke="#000" strokeWidth={4}>
        {yTickValues.map(v => {
          const len = Math.abs(v % 0.5) < 1e-6 ? 37 : 17
          return (
            <g key={v}>
              <line x1={left} x2={left + len} y1={y(v)} y2={y(v)} />
              <line x1={right} x2={right - len} y1={y(v)} y2={y(v)} />
            </g>
          )
        })}
        <line x1={left + 3} x2={left + 15} y1={y(-0.25)} y2={y(-0.25)} />
        <line x1={right} x2={right - 17} y1={y(-0.25)} y2={y(-0.25)} />
      </g>
      <g fontSize={67} textAnchor="end" fill="#000">
        {yTickLabels.map(v => (
          <text key={v} x={229} y={y(v) - 3} dominantBaseline="central">{v.toFixed(1)}</text>
        ))}
      </g>

      {/* difference axis on the right */}
      <g stroke="#000" strokeWidth={4}>
        {diffTickValues.map(v => {
          const len = Math.abs(v % 0.5) < 1e-6 ? 34 : 17
          return <line key={v} x1={right} x2={right - len} y1={yd(v)} y2={yd(v)} />
        })}
      </g>
      <g fontSize={67} textAnchor="middle" fill="#000">
        {diffTickLabels.map(v => (
          <text key={v} x={3128} y={yd(v) - 4} dominantBaseline="central">{fmt(v)}</text>
        ))}
      </g>

      {/* axis titles */}
      <text transform={`translate(88,515) rotate(-90)`} fontSize={87} textAnchor="middle" fill="#000">
        Intensity (kcounts)
      </text>
      <text x={1565} y={1296} fontSize={60} textAnchor="middle" dominantBaseline="central" fill="#222">
        2θ (Deg.)
      </text>

      {/* phase names */}
      <text x={328} y={863} fontSize={56} fill={GREEN}>
        Nd<tspan fontSize={35} dy={17}>2</tspan><tspan fontSize={56} dy={-17}>Fe</tspan>
        <tspan fontSize={35} dy={17}>14</tspan><tspan fontSize={56} dy={-17}>B</tspan>
      </text>
      <text x={329} y={960} fontSize={60} fill={ORANGE}>α-Fe</text>

      {/* hkl labels */}
      <g fontSize={40} letterSpacing={3.5} fill="#222">
        {verticalLabels.map(l => (
          <text key={l.hkl} textAnchor="middle" dominantBaseline="central"
            transform={`translate(${x(l.at[0])},${y(l.at[1])}) rotate(-90)`}>{l.hkl}</text>
        ))}
        {horizontalLabels.map(l => (
          <text key={l.hkl} x={x(l.at[0])} y={y(l.at[1])} textAnchor="middle" dominantBaseline="central">{l.hkl}</text>
        ))}
      </g>

      {/* legend */}
      <g fontSize={60} fill="#000">
        <circle cx={2483} cy={115} r={7} fill="#fff" stroke="#000" strokeWidth={2.5} />
        <text x={2517} y={142}>Experimental</text>
        <line x1={2440} x2={2492} y1={204} y2={204} stroke={RED} strokeWidth={8} />
        <text x={2517} y={220}>Theoretical</text>
        <line x1={2468} x2={2468} y1={246} y2={295} stroke="#000" strokeWidth={3} />
        <line x1={2479} x2={2479} y1={246} y2={295} stroke="#000" strokeWidth={3} />
        <text x={2519} y={295}>Bragg peaks</text>
        <line x1={2443} x2={2494} y1={354} y2={354} stroke="#6673ff" strokeWidth={8} />
        <text x={2521} y={370}>Difference</text>
      </g>
    </svg>
  )
}
